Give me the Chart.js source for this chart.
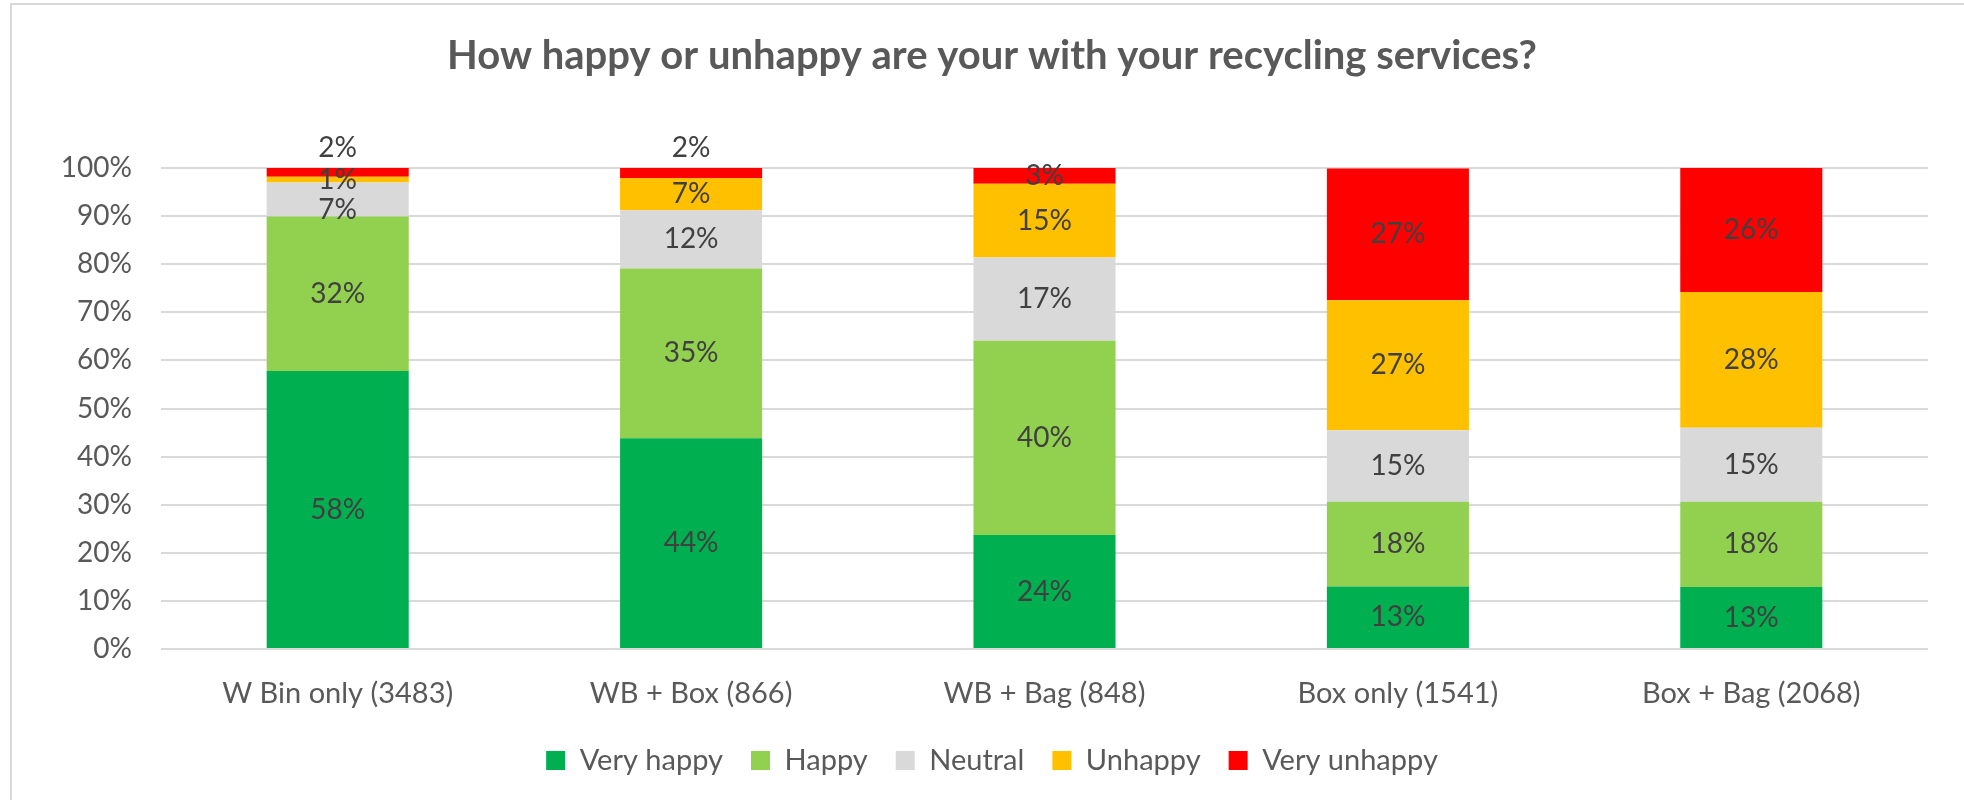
<!DOCTYPE html>
<html>
<head>
<meta charset="utf-8">
<script src="https://cdn.jsdelivr.net/npm/chart.js@4"></script>
<style>
  body { margin: 0; background: #fff; }
  #wrap { position: relative; width: 1964px; height: 800px; overflow: hidden; }
  #frame { position: absolute; left: 10px; top: 3px; width: 2000px; height: 900px;
           border-left: 2px solid #d9d9d9; border-top: 2px solid #d9d9d9; }
  canvas { position: absolute; left: 0; top: 0; }
</style>
</head>
<body>
<div id="wrap">
  <div id="frame"></div>
  <canvas id="recyclingChart" width="1964" height="800"></canvas>
</div>
<script>
// Categories and series (percent of respondents)
const groups = ['W Bin only (3483)', 'WB + Box (866)', 'WB + Bag (848)', 'Box only (1541)', 'Box + Bag (2068)'];
const veryHappy   = [57.8, 43.8, 23.7, 13.0, 12.9];
const happy       = [32.1, 35.3, 40.4, 17.6, 17.7];
const neutral     = [7.1, 12.1, 17.3, 14.9, 15.4];
const unhappy     = [1.2, 6.7, 15.3, 27.0, 28.2];
const veryUnhappy = [1.8, 2.1, 3.3, 27.4, 25.8];

Chart.defaults.font.family = 'Lato';
Chart.defaults.color = '#595959';

// Percent labels inside each segment, pushed apart when they would collide
const segmentLabels = {
    id: 'segmentLabels',
    afterDatasetsDraw(chart) {
        const ctx = chart.ctx;
        const sets = chart.data.datasets;
        const top = sets.length - 1;
        ctx.save();
        ctx.font = '28px Lato';
        ctx.fillStyle = '#404040';
        ctx.textAlign = 'center';
        ctx.textBaseline = 'middle';
        chart.data.labels.forEach((_, i) => {
            let prev = null;
            for (let d = top; d >= 0; d--) {
                const bar = chart.getDatasetMeta(d).data[i];
                const v = sets[d].data[i];
                let y = (bar.y + bar.base) / 2;
                if (d === top && v < 2.5) y = bar.y - 20;
                if (prev !== null && y - prev < 30) y = prev + 30;
                ctx.fillText(Math.round(v) + '%', bar.x, y);
                prev = y;
            }
        });
        ctx.restore();
    }
};

const ctx = document.getElementById('recyclingChart').getContext('2d');
const recyclingChart = new Chart(ctx, {
    type: 'bar',
    data: {
        labels: groups,
        datasets: [
            { label: 'Very happy', data: veryHappy, backgroundColor: '#00B050' },
            { label: 'Happy', data: happy, backgroundColor: '#92D050' },
            { label: 'Neutral', data: neutral, backgroundColor: '#D9D9D9' },
            { label: 'Unhappy', data: unhappy, backgroundColor: '#FFC000' },
            { label: 'Very unhappy', data: veryUnhappy, backgroundColor: '#FF0000' }
        ]
    },
    options: {
        responsive: false,
        animation: false,
        layout: { padding: { left: 56, right: 36, top: 0, bottom: 15 } },
        datasets: { bar: { categoryPercentage: 1, barPercentage: 0.402 } },
        plugins: {
            title: {
                display: true,
                text: 'How happy or unhappy are your with your recycling services?',
                color: '#595959',
                font: { size: 40, weight: 'bold' },
                padding: { top: 32, bottom: 88 }
            },
            legend: {
                position: 'bottom',
                labels: {
                    boxWidth: 19,
                    boxHeight: 19,
                    padding: 28,
                    color: '#595959',
                    font: { size: 29 }
                }
            },
            tooltip: { enabled: false }
        },
        scales: {
            x: {
                stacked: true,
                grid: { display: false, drawTicks: false },
                border: { display: false },
                ticks: { padding: 27, color: '#595959', font: { size: 29 } },
                afterFit(scale) { scale.height = 69; }
            },
            y: {
                stacked: true,
                min: 0,
                max: 100,
                grid: { color: '#d9d9d9', lineWidth: 2, drawTicks: false },
                border: { display: false },
                ticks: {
                    stepSize: 10,
                    padding: 29,
                    color: '#595959',
                    font: { size: 28 },
                    callback: v => v + '%'
                },
                afterFit(scale) { scale.width = 105; }
            }
        }
    },
    plugins: [segmentLabels]
});
</script>
</body>
</html>
